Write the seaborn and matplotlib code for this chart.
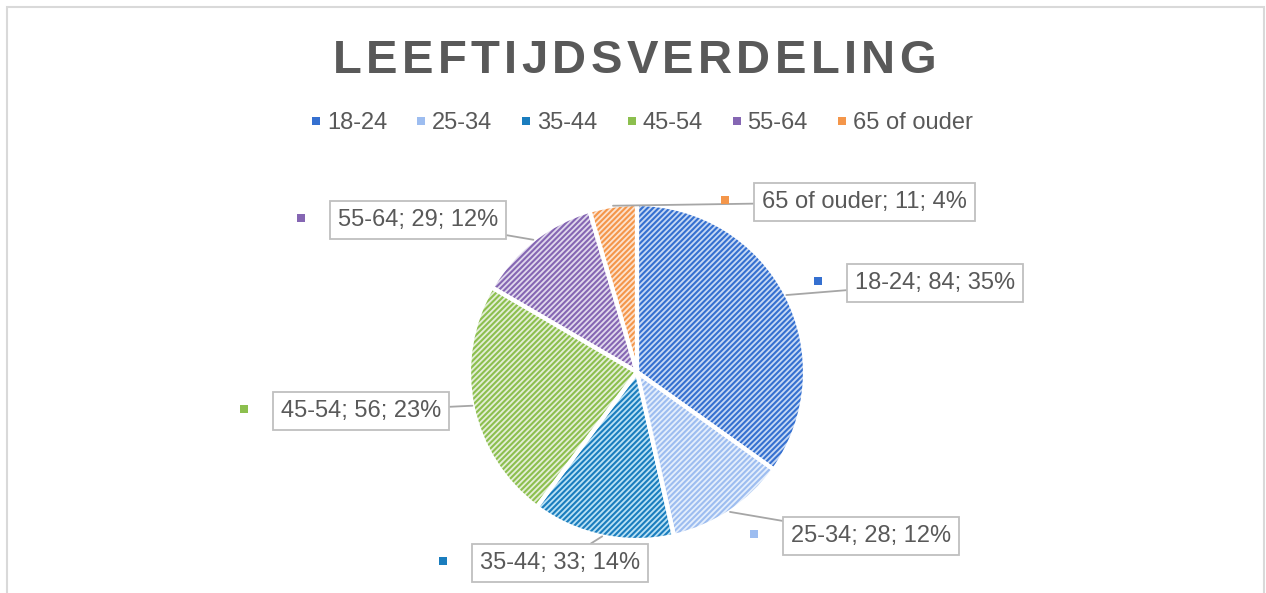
import matplotlib
matplotlib.use("Agg")
import matplotlib.pyplot as plt
from matplotlib.lines import Line2D
from matplotlib.patches import Rectangle
import numpy as np
import seaborn as sns

# ---- data ----
categories = ["18-24", "25-34", "35-44", "45-54", "55-64", "65 of ouder"]
counts = [84, 28, 33, 56, 29, 11]
percent_labels = ["35%", "12%", "14%", "23%", "12%", "4%"]

title = "LEEFTIJDSVERDELING"

# ---- style ----
sns.set_theme(style="white")
plt.rcParams["font.family"] = ["Liberation Sans", "DejaVu Sans"]
plt.rcParams["hatch.linewidth"] = 1.5

dark_cols = ["#3570D0", "#9DBDF0", "#1A7DBE", "#8CBF4E", "#8566B3", "#F4964A"]
light_cols = ["#C6D8F4", "#E4EEFC", "#B9E1F4", "#E3EED6", "#E0D8EC", "#FCE2CE"]
text_col = "#595959"

W, H = 1266, 593
fig = plt.figure(figsize=(W / 100, H / 100), dpi=100)
ax = fig.add_axes([0, 0, 1, 1])

def py(y):
    return H - y

cx, cy, R = 637, py(372), 168

# base fill
ax.pie(counts, colors=light_cols, startangle=90, counterclock=False,
       center=(cx, cy), radius=R, frame=True,
       wedgeprops=dict(linewidth=0, edgecolor="white"))
# hatching
wedges_h, _ = ax.pie(counts, colors=["none"] * 6, startangle=90, counterclock=False,
                     center=(cx, cy), radius=R, frame=True,
                     wedgeprops=dict(linewidth=0))
for w, c in zip(wedges_h, dark_cols):
    w.set_facecolor("none")
    w.set_edgecolor(c)
    w.set_hatch("//////")
    w.set_linewidth(0)
# white separators
ax.pie(counts, colors=["none"] * 6, startangle=90, counterclock=False,
       center=(cx, cy), radius=R, frame=True,
       wedgeprops=dict(linewidth=3, edgecolor="white", facecolor="none"))

ax.set_xlim(0, W)
ax.set_ylim(0, H)
ax.set_aspect("auto")
ax.axis("off")

# ---- data labels ----
total = float(sum(counts))
cum = np.cumsum([0] + counts)
# label box left edges and vertical centers (layout, in px)
box_left = [845, 781, 470, 271, 328, 752]
box_cy = [283, 536, 563, 411, 220, 202]
for i, cat in enumerate(categories):
    mid = (cum[i] + cum[i + 1]) / 2 / total
    theta = np.deg2rad(90 - 360 * mid)
    ex, ey = cx + R * np.cos(theta), cy + R * np.sin(theta)
    txt = f"{cat}; {counts[i]}; {percent_labels[i]}"
    ax.annotate(txt, xy=(ex, ey), xytext=(box_left[i] + 10, py(box_cy[i])),
                ha="left", va="center", fontsize=17, color=text_col,
                bbox=dict(boxstyle="square,pad=0.33", fc="white", ec="#BFBFBF", lw=1.3),
                arrowprops=dict(arrowstyle="-", color="#A6A6A6", lw=1.3,
                                shrinkA=0, shrinkB=0),
                zorder=5)
    ax.scatter([box_left[i] - 27], [py(box_cy[i] - 2)], marker="s", s=30,
               color=dark_cols[i], zorder=5, linewidths=0)

# ---- legend ----
handles = [Line2D([], [], marker="s", linestyle="none", markersize=5.5,
                  markerfacecolor=c, markeredgewidth=0) for c in dark_cols]
fig.legend(handles, categories, loc="center", ncol=6,
           bbox_to_anchor=(642 / W, 1 - 123 / H), frameon=False,
           fontsize=17, labelcolor=text_col, handlelength=0.4,
           handletextpad=0.25, columnspacing=1.25)

# ---- title with letter spacing ----
renderer = fig.canvas.get_renderer()
tobjs = []
widths = []
for ch in title:
    t = fig.text(0, 1 - 73 / H, ch, fontsize=34, fontweight="bold",
                 color=text_col, ha="left", va="baseline")
    tobjs.append(t)
    widths.append(t.get_window_extent(renderer).width)
x0, x1 = 333, 936
gap = (x1 - x0 - sum(widths)) / (len(title) - 1)
x = x0
for t, w in zip(tobjs, widths):
    t.set_x(x / W)
    x += w + gap

# ---- chart border ----
fig.patches.append(Rectangle((6.5 / W, -0.1), (1264 - 6.5) / W, (H - 7 + 0.1 * H) / H,
                             transform=fig.transFigure, fill=False,
                             edgecolor="#D9D9D9", linewidth=1.5))

fig.savefig("out.png", dpi=100)
